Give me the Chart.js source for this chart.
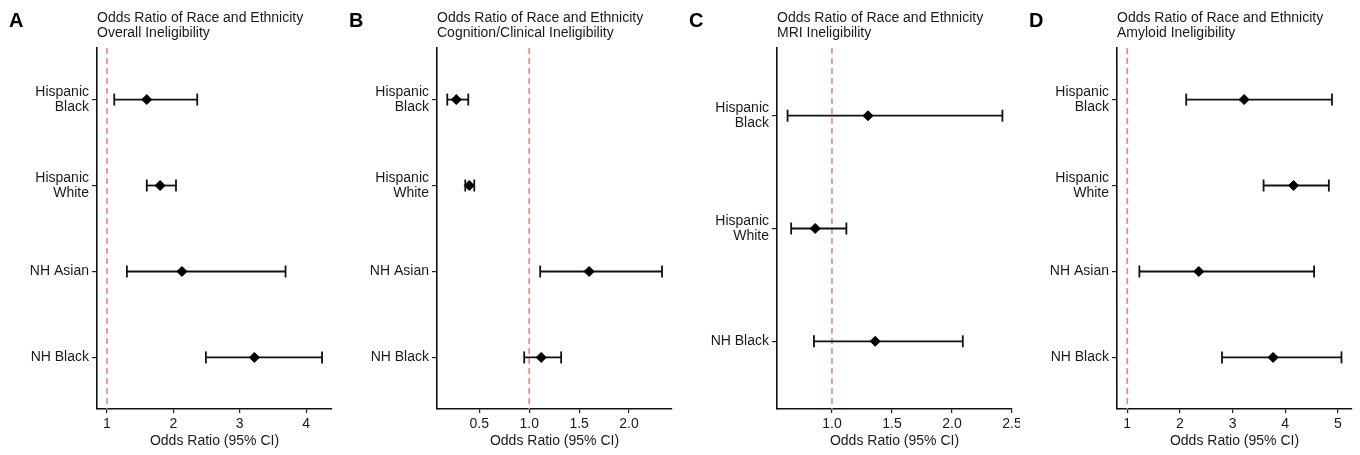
<!DOCTYPE html>
<html><head><meta charset="utf-8">
<script src="https://cdn.jsdelivr.net/npm/chart.js@4"></script>
<style>
html,body{margin:0;padding:0;background:#fff;overflow:hidden}
#wrap{position:relative;width:1360px;height:455px;background:#fff}
.panel{position:absolute;top:0;width:340px;height:455px}
</style></head><body>
<div id="wrap">
<div class="panel" style="left:0"><canvas id="cA"></canvas></div>
<div class="panel" style="left:340px"><canvas id="cB"></canvas></div>
<div class="panel" style="left:680px"><canvas id="cC"></canvas></div>
<div class="panel" style="left:1020px"><canvas id="cD"></canvas></div>
</div>
<script>
// ---- data ----
const titleMain = 'Odds Ratio of Race and Ethnicity';
const panelLetters = ['A', 'B', 'C', 'D'];
const panelSubtitles = ['Overall Ineligibility', 'Cognition/Clinical Ineligibility', 'MRI Ineligibility', 'Amyloid Ineligibility'];
const axisTitle = 'Odds Ratio (95% CI)';

const catsABD = [['Hispanic', 'Black'], ['Hispanic', 'White'], 'NH Asian', 'NH Black'];
const catsC = [['Hispanic', 'Black'], ['Hispanic', 'White'], 'NH Black'];

const orA = [1.60, 1.80, 2.13, 3.22];
const loA = [1.11, 1.60, 1.30, 2.49];
const hiA = [2.36, 2.04, 3.69, 4.24];

const orB = [0.27, 0.40, 1.60, 1.12];
const loB = [0.18, 0.36, 1.11, 0.95];
const hiB = [0.39, 0.45, 2.33, 1.32];

const orC = [1.30, 0.86, 1.36];
const loC = [0.63, 0.66, 0.85];
const hiC = [2.42, 1.12, 2.09];

const orD = [3.22, 4.16, 2.36, 3.77];
const loD = [2.12, 3.59, 1.23, 2.80];
const hiD = [4.89, 4.83, 4.55, 5.07];

const ticksA = [1, 2, 3, 4];
const ticksB = [0.5, 1.0, 1.5, 2.0];
const ticksC = [1.0, 1.5, 2.0, 2.5];
const ticksD = [1, 2, 3, 4, 5];
const tickLabelsA = ['1', '2', '3', '4'];
const tickLabelsB = ['0.5', '1.0', '1.5', '2.0'];
const tickLabelsC = ['1.0', '1.5', '2.0', '2.5'];
const tickLabelsD = ['1', '2', '3', '4', '5'];

const refLine = 1;

// ---- styling / layout ----
const FONT = '"Liberation Sans", Arial, Helvetica, sans-serif';
const TXT = '#1a1a1a';

const headerPlugin = {
  id: 'header',
  afterDraw(chart, args, opts) {
    const ctx = chart.ctx;
    ctx.save();
    ctx.fillStyle = '#000';
    ctx.textAlign = 'left';
    ctx.textBaseline = 'alphabetic';
    ctx.font = 'bold 20px ' + FONT;
    ctx.fillText(opts.letter, 9, 26.5);
    ctx.fillStyle = TXT;
    ctx.font = '14px ' + FONT;
    ctx.fillText(opts.line1, chart.chartArea.left, 22);
    ctx.fillText(opts.line2, chart.chartArea.left, 36.5);
    ctx.restore();
  }
};

function makePanel(id, idx, cats, ors, los, his, xmin, xmax, ticks, tickLabels) {
  const n = cats.length;
  const datasets = [];
  datasets.push({
    type: 'line',
    data: [{x: refLine, y: 0.4}, {x: refLine, y: n + 0.6}],
    borderColor: '#f58080',
    borderWidth: 1.6,
    borderDash: [6, 4],
    pointRadius: 0,
    order: 3
  });
  cats.forEach((c, i) => {
    datasets.push({
      type: 'line',
      data: [{x: los[i], y: i + 1}, {x: his[i], y: i + 1}],
      borderColor: '#111',
      borderWidth: 1.8,
      pointStyle: 'line',
      rotation: 90,
      pointRadius: 6,
      pointBorderWidth: 1.8,
      pointBorderColor: '#111',
      order: 2
    });
  });
  datasets.push({
    type: 'scatter',
    data: ors.map((v, i) => ({x: v, y: i + 1})),
    pointStyle: 'rectRot',
    pointRadius: 5,
    pointBackgroundColor: '#000',
    pointBorderColor: '#000',
    pointBorderWidth: 1,
    order: 1
  });

  return new Chart(document.getElementById(id), {
    type: 'scatter',
    data: {datasets},
    options: {
      responsive: true,
      maintainAspectRatio: false,
      animation: false,
      events: [],
      layout: {padding: {top: 48, right: 8, left: 0, bottom: 0}},
      plugins: {
        legend: {display: false},
        tooltip: {enabled: false},
        header: {letter: panelLetters[idx], line1: titleMain, line2: panelSubtitles[idx]}
      },
      scales: {
        x: {
          type: 'linear',
          min: xmin,
          max: xmax,
          afterBuildTicks: s => { s.ticks = ticks.map(v => ({value: v})); },
          afterFit: s => { s.height = 46; s.paddingLeft = 0; s.paddingRight = 0; },
          ticks: {
            autoSkip: false,
            maxRotation: 0,
            padding: 3,
            color: TXT,
            font: {family: FONT, size: 14},
            callback: (v, i) => tickLabels[i]
          },
          grid: {display: true, drawOnChartArea: false, drawTicks: true, tickLength: 4, color: '#222', lineWidth: 1.2},
          border: {display: true, color: '#111', width: 1.6},
          title: {
            display: true,
            text: axisTitle,
            color: TXT,
            font: {family: FONT, size: 14},
            padding: {top: 0, bottom: 5}
          }
        },
        y: {
          type: 'linear',
          reverse: true,
          min: 0.4,
          max: n + 0.6,
          afterBuildTicks: s => { s.ticks = cats.map((c, i) => ({value: i + 1})); },
          afterFit: s => { s.width = 97; s.paddingTop = 0; s.paddingBottom = 0; },
          ticks: {
            autoSkip: false,
            padding: 3,
            color: TXT,
            font: {family: FONT, size: 14, lineHeight: 1.05},
            callback: (v) => cats[Math.round(v) - 1]
          },
          grid: {display: true, drawOnChartArea: false, drawTicks: true, tickLength: 5, color: '#222', lineWidth: 1.2},
          border: {display: true, color: '#111', width: 1.6}
        }
      }
    },
    plugins: [headerPlugin]
  });
}

makePanel('cA', 0, catsABD, orA, loA, hiA, 0.85, 4.39, ticksA, tickLabelsA);
makePanel('cB', 1, catsABD, orB, loB, hiB, 0.077, 2.43, ticksB, tickLabelsB);
makePanel('cC', 2, catsC, orC, loC, hiC, 0.542, 2.5, ticksC, tickLabelsC);
makePanel('cD', 3, catsABD, orD, loD, hiD, 0.805, 5.27, ticksD, tickLabelsD);
</script>
</body></html>
